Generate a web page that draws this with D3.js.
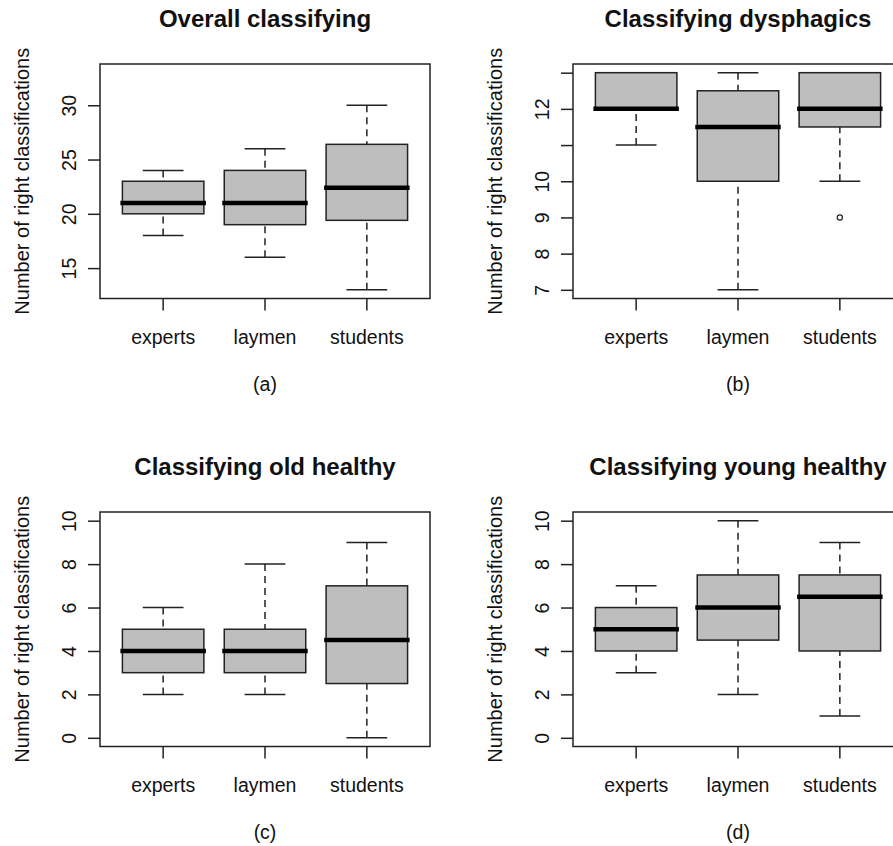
<!DOCTYPE html>
<html>
<head>
<meta charset="utf-8">
<script src="https://cdn.jsdelivr.net/npm/d3@7"></script>
<style>
    body { margin: 0; background: #fff; }
    text { font-family: "Liberation Sans", Arial, sans-serif; fill: #111; }
</style>
</head>
<body>
<script>
//group names on the x axis
var categories = ["experts", "laymen", "students"];

//panel titles and sub labels
var titles = ["Overall classifying", "Classifying dysphagics", "Classifying old healthy", "Classifying young healthy"];
var subLabels = ["(a)", "(b)", "(c)", "(d)"];

//box stats per group: [lower whisker, q1, median, q3, upper whisker]
var overallStats = [[18, 20, 21, 23, 24], [16, 19, 21, 24, 26], [13, 19.4, 22.4, 26.4, 30]];
var dysphagicsStats = [[11, 12, 12, 13, 13], [7, 10, 11.5, 12.5, 13], [10, 11.5, 12, 13, 13]];
var oldStats = [[2, 3, 4, 5, 6], [2, 3, 4, 5, 8], [0, 2.5, 4.5, 7, 9]];
var youngStats = [[3, 4, 5, 6, 7], [2, 4.5, 6, 7.5, 10], [1, 4, 6.5, 7.5, 9]];

//outliers per group
var overallOutliers = [[], [], []];
var dysphagicsOutliers = [[], [], [9]];
var oldOutliers = [[], [], []];
var youngOutliers = [[], [], []];

//y axis limits and ticks
var overallDomain = [12.2, 33.8];
var dysphagicsDomain = [6.76, 13.24];
var healthyDomain = [-0.4, 10.4];
var overallTicks = [15, 20, 25, 30];
var dysphagicsTicks = [7, 8, 9, 10, 11, 12, 13];
var dysphagicsTickLabels = ["7", "8", "9", "10", "", "12", ""];
var healthyTicks = [0, 2, 4, 6, 8, 10];

window.onload = drawAll();

function drawAll(){
    var width = 893,
        height = 846;

    var svg = d3.select("body")
        .append("svg")
        .attr("width", width)
        .attr("height", height);

    //one entry per panel, built from the arrays above
    var panels = [
        {stats: overallStats, outliers: overallOutliers, domain: overallDomain, ticks: overallTicks, labels: null, left: 100, top: 64},
        {stats: dysphagicsStats, outliers: dysphagicsOutliers, domain: dysphagicsDomain, ticks: dysphagicsTicks, labels: dysphagicsTickLabels, left: 573, top: 64},
        {stats: oldStats, outliers: oldOutliers, domain: healthyDomain, ticks: healthyTicks, labels: null, left: 100, top: 512},
        {stats: youngStats, outliers: youngOutliers, domain: healthyDomain, ticks: healthyTicks, labels: null, left: 573, top: 512}
    ];

    panels.forEach(function(p, i){
        drawPanel(svg, p, titles[i], subLabels[i]);
    });
};

function drawPanel(svg, p, title, subLabel){
    var w = 330,
        h = 234.5;

    var g = svg.append("g")
        .attr("transform", "translate(" + p.left + "," + p.top + ")");

    var x = d3.scaleBand()
        .domain(categories)
        .range([0, w])
        .paddingInner(0.2)
        .paddingOuter(0.22);

    var y = d3.scaleLinear()
        .domain(p.domain)
        .range([h, 0]);

    var bw = x.bandwidth();

    //boxes
    var box = g.selectAll(".box")
        .data(categories)
        .enter()
        .append("g")
        .attr("class", "box");

    //dashed whiskers
    box.append("line")
        .attr("x1", function(d){ return x(d) + bw / 2; })
        .attr("x2", function(d){ return x(d) + bw / 2; })
        .attr("y1", function(d, j){ return y(p.stats[j][0]); })
        .attr("y2", function(d, j){ return y(p.stats[j][1]); })
        .attr("stroke", "#222")
        .attr("stroke-width", 1.5)
        .attr("stroke-dasharray", "7,5");
    box.append("line")
        .attr("x1", function(d){ return x(d) + bw / 2; })
        .attr("x2", function(d){ return x(d) + bw / 2; })
        .attr("y1", function(d, j){ return y(p.stats[j][4]); })
        .attr("y2", function(d, j){ return y(p.stats[j][3]); })
        .attr("stroke", "#222")
        .attr("stroke-width", 1.5)
        .attr("stroke-dasharray", "7,5");

    //staples
    [0, 4].forEach(function(k){
        box.append("line")
            .attr("x1", function(d){ return x(d) + bw / 4; })
            .attr("x2", function(d){ return x(d) + bw * 3 / 4; })
            .attr("y1", function(d, j){ return y(p.stats[j][k]); })
            .attr("y2", function(d, j){ return y(p.stats[j][k]); })
            .attr("stroke", "#222")
            .attr("stroke-width", 1.5);
    });

    box.append("rect")
        .attr("x", function(d){ return x(d); })
        .attr("y", function(d, j){ return y(p.stats[j][3]); })
        .attr("width", bw)
        .attr("height", function(d, j){ return y(p.stats[j][1]) - y(p.stats[j][3]); })
        .attr("fill", "#bebebe")
        .attr("stroke", "#222")
        .attr("stroke-width", 1.5);

    //medians
    box.append("line")
        .attr("x1", function(d){ return x(d) - 2; })
        .attr("x2", function(d){ return x(d) + bw + 2; })
        .attr("y1", function(d, j){ return y(p.stats[j][2]); })
        .attr("y2", function(d, j){ return y(p.stats[j][2]); })
        .attr("stroke", "#000")
        .attr("stroke-width", 4.5);

    //outliers
    box.selectAll("circle")
        .data(function(d, j){ return p.outliers[j].map(function(v){ return {cat: d, v: v}; }); })
        .enter()
        .append("circle")
        .attr("cx", function(o){ return x(o.cat) + bw / 2; })
        .attr("cy", function(o){ return y(o.v); })
        .attr("r", 2.6)
        .attr("fill", "none")
        .attr("stroke", "#222")
        .attr("stroke-width", 1.2);

    //frame
    g.append("rect")
        .attr("width", w)
        .attr("height", h)
        .attr("fill", "none")
        .attr("stroke", "#222")
        .attr("stroke-width", 1.5);

    //y axis
    var yAxis = g.append("g")
        .call(d3.axisLeft(y)
            .tickValues(p.ticks)
            .tickSize(12)
            .tickFormat(function(d, k){ return p.labels ? p.labels[k] : d; }));
    yAxis.select(".domain").remove();
    yAxis.selectAll("line").attr("stroke", "#222").attr("stroke-width", 1.5);
    yAxis.selectAll("text")
        .attr("transform", "rotate(-90)")
        .attr("x", 0)
        .attr("y", -24)
        .attr("dy", 0)
        .attr("text-anchor", "middle")
        .style("font-size", "19.5px")
        .style("font-family", null)
        .attr("font-family", null)
        .attr("fill", "#111");

    //x axis
    var xAxis = g.append("g")
        .attr("transform", "translate(0," + h + ")")
        .call(d3.axisBottom(x).tickSize(12));
    xAxis.select(".domain").remove();
    xAxis.selectAll("line").attr("stroke", "#222").attr("stroke-width", 1.5);
    xAxis.selectAll("text")
        .attr("y", 45)
        .attr("dy", 0)
        .style("font-size", "19.5px")
        .attr("font-family", null)
        .attr("fill", "#111");
    yAxis.attr("font-family", null);
    xAxis.attr("font-family", null);

    //axis title
    g.append("text")
        .attr("transform", "rotate(-90)")
        .attr("x", -h / 2)
        .attr("y", -71)
        .attr("text-anchor", "middle")
        .style("font-size", "20px")
        .text("Number of right classifications");

    //panel title
    g.append("text")
        .attr("x", w / 2)
        .attr("y", -37)
        .attr("text-anchor", "middle")
        .style("font-size", "24px")
        .style("font-weight", "bold")
        .text(title);

    //sub label
    g.append("text")
        .attr("x", w / 2)
        .attr("y", h + 92.5)
        .attr("text-anchor", "middle")
        .style("font-size", "19.5px")
        .text(subLabel);
};
</script>
</body>
</html>
